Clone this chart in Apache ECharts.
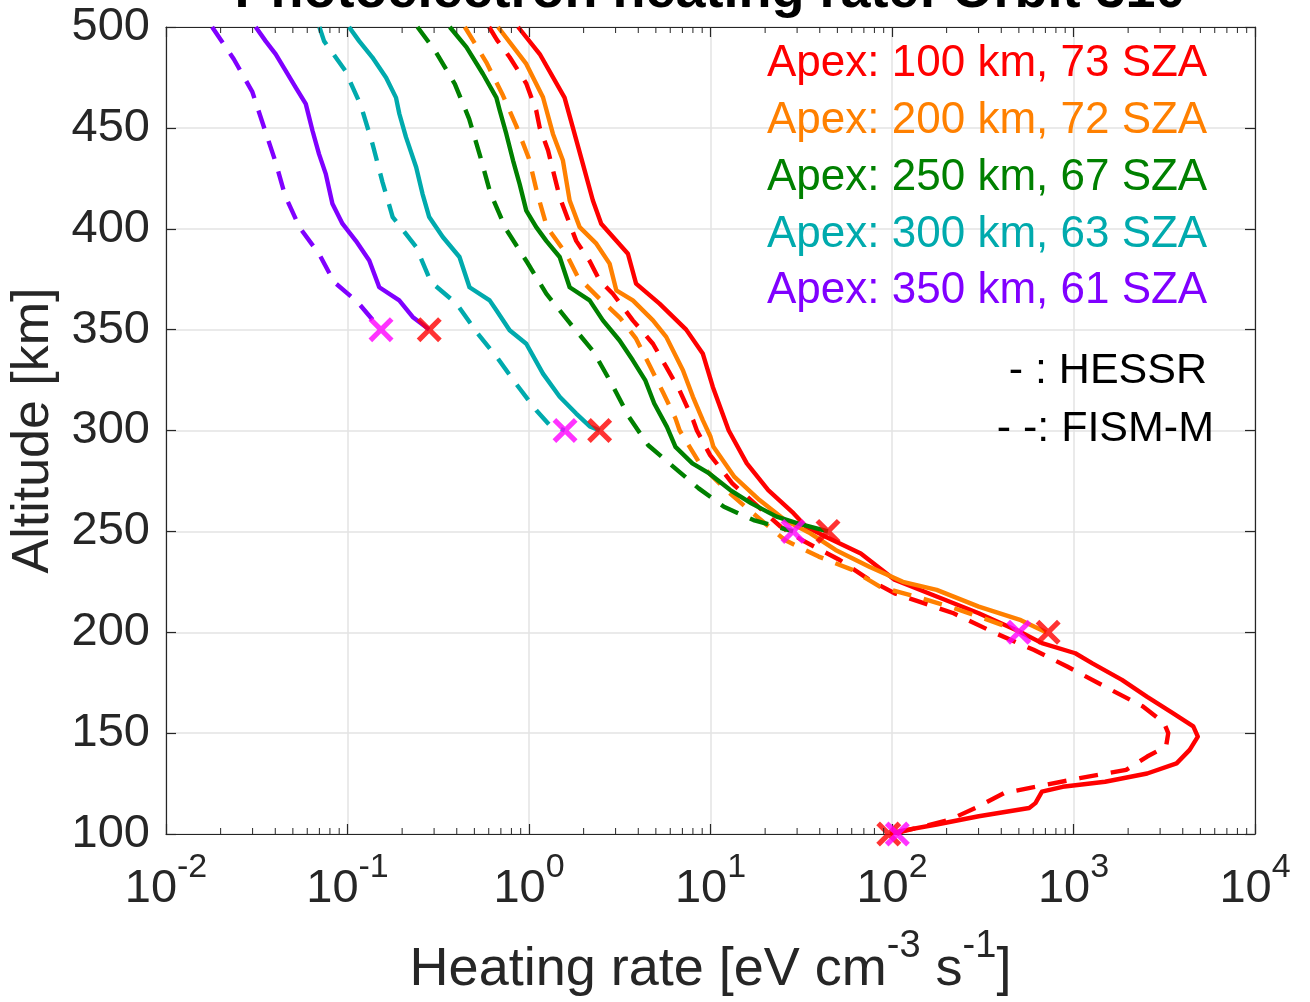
<!DOCTYPE html>
<html><head><meta charset="utf-8">
<script src="https://cdn.jsdelivr.net/npm/echarts@6/dist/echarts.min.js"></script>
<style>html,body{margin:0;padding:0;background:#fff}#c{width:1310px;height:1002px}</style>
</head><body><div id="c"></div>
<script>
// ---------- data (altitude in km, heating rate in eV cm^-3 s^-1) ----------
const ALT_100_H  = [500,486.6,465,450,432,414,402.5,387.6,372.8,362.9,350,338,321.6,300,283.7,270.5,259,252.3,248,239,226,217.7,209.4,200,194.6,189.6,184.6,176.4,168,160,153.3,148.3,141.7,135,130,125.9,123.4,121,115.3,112.9,108.8,104.7,101.3,100];
const RATE_100_H = [0.871,1.146,1.570,1.746,1.982,2.249,2.500,3.508,3.890,5.236,7.345,9.078,10.30,12.6,15.85,20.80,28.64,33.65,41.7,67.3,103.3,176.2,300.6,512.9,669.9,1023,1271,1849,2547,3508,4571,4842,4365,3698,2547,1493,871,670,617,570,300.6,176.2,108.9,97.7];
const ALT_100_F  = [500,493.5,485,472,458.6,450,438.8,429,415.7,402.5,394,384,374.4,367.8,354.6,343,331.5,320,305,300,287.8,273.8,260.6,252.3,245.7,235.8,226,219.3,209.4,199.5,191.3,183,173,163.2,155,150,143.4,138.4,131.8,127.7,124.4,120.3,113.7,107,101.3,100];
const RATE_100_F = [0.603,0.667,0.783,0.966,1.096,1.146,1.274,1.355,1.476,1.675,1.820,2.158,2.449,2.897,3.733,4.819,5.702,6.745,8.035,8.414,9.954,13.18,19.19,24.38,31.84,51.52,74.99,103.3,218.3,372.4,602.6,922.6,1493,2415,3155,3327,3236,2547,1950,1084,706.3,414,300.6,207,114.8,105.9];
const ALT_200_H  = [500,481.7,465.2,447,433.8,414,400.8,392.6,382.7,369.5,364.5,354.6,346.4,329.9,316.7,305,296.9,291.9,277,265.5,255.6,249,240.8,232.5,225,221,212.7,206,200];
const RATE_200_H = [0.675,0.966,1.194,1.355,1.538,1.675,1.901,2.350,2.780,3.027,3.733,4.819,5.702,7.047,8.000,9.078,10.0,10.38,13.55,18.62,25.70,35.48,48.87,74.99,114.8,176.2,300.6,512.9,706.3];
const ALT_200_F  = [500,482.5,466,451,434.7,418,400.8,387.6,376,365.3,356,345.5,332.3,319,306,300,282.8,269.6,257,245.7,237.5,230.9,222.6,217.7,212.7,207.8,201,200];
const RATE_200_F = [0.443,0.582,0.719,0.851,1.0,1.107,1.256,1.603,1.862,2.449,3.162,3.890,4.613,5.470,6.412,6.761,8.851,12.50,18.20,25.70,39.45,60.53,85.70,134.9,207.0,300.6,486.4,501];
const ALT_250_H  = [500,490,476.7,465,458.6,447,433.8,422,409,400.8,394,386,371,364.5,354.6,344.6,334.8,325,313.4,301.8,291.9,283.7,278.7,270.5,263.9,257.3,254,250];
const RATE_250_H = [0.366,0.452,0.558,0.661,0.690,0.750,0.817,0.889,0.966,1.096,1.245,1.476,1.675,2.158,2.553,3.155,3.733,4.365,4.898,5.754,6.412,7.943,9.840,12.85,16.79,23.12,30.20,44.4];
const ALT_250_F  = [500,488,471.8,454.5,436.3,417.8,400,383.5,367.8,353.8,339,322.4,306.8,292.7,282,271.3,262.2,255.6,250];
const RATE_250_F = [0.243,0.305,0.390,0.468,0.537,0.612,0.745,0.975,1.245,1.660,2.270,2.884,3.548,4.539,6.252,8.610,11.86,17.26,28.51];
const ALT_300_H  = [500,493,485,475,465,457,445.4,430.5,417.3,405.8,395.9,386,371,364.5,359.6,349.7,343,328.2,316.7,308.4,302,300];
const RATE_300_H = [0.102,0.116,0.137,0.163,0.185,0.193,0.210,0.239,0.259,0.282,0.335,0.414,0.470,0.607,0.661,0.782,0.966,1.194,1.476,1.820,2.163,2.455];
const ALT_300_F  = [500,493,478.4,461,442,423,405.8,391,373.6,362.9,348,335.6,323,310,303,300];
const RATE_300_F = [0.0700,0.0743,0.0971,0.1186,0.1374,0.1560,0.1774,0.2388,0.2884,0.3981,0.5224,0.6745,0.8511,1.096,1.288,1.574];
const ALT_350_H  = [500,493,486.6,478.4,470,461.9,448.7,437,427.2,412.4,402.5,394,384.3,371,364.5,356.3,350];
const RATE_350_H = [0.0312,0.0354,0.0402,0.0456,0.0519,0.0589,0.0641,0.0697,0.0759,0.0826,0.0938,0.1112,0.1318,0.1496,0.1928,0.2286,0.2818];
const ALT_350_F  = [500,484,468,450.3,433,416.5,400.5,387.6,373.6,363.7,350];
const RATE_350_F = [0.01795,0.02366,0.02985,0.03467,0.04018,0.04529,0.05458,0.06966,0.08433,0.1135,0.1528];
// end markers
const END_ALT    = [350,300,250,200,100];
const END_HESSR  = [0.282,2.45,44.4,725,96];
const END_FISM   = [0.153,1.58,28.5,500,107];
// labels
const LEGEND_TEXT = ['Apex: 100 km, 73 SZA','Apex: 200 km, 72 SZA','Apex: 250 km, 67 SZA','Apex: 300 km, 63 SZA','Apex: 350 km, 61 SZA'];
const COLORS = ['#ff0000','#ff8000','#008000','#00aaad','#8000ff'];
const TITLE = 'Photoelectron heating rate: Orbit 310';

const FONT = '"Liberation Sans", Arial, Helvetica, sans-serif';
const TXT = '#262626';

const curves = [
  [ALT_100_H, RATE_100_H, ALT_100_F, RATE_100_F],
  [ALT_200_H, RATE_200_H, ALT_200_F, RATE_200_F],
  [ALT_250_H, RATE_250_H, ALT_250_F, RATE_250_F],
  [ALT_300_H, RATE_300_H, ALT_300_F, RATE_300_F],
  [ALT_350_H, RATE_350_H, ALT_350_F, RATE_350_F]
];
const zip = (alt, rate) => alt.map((a, i) => [rate[i], a]);

const series = [];
curves.forEach((c, i) => {
  series.push({type:'line', name:'H'+i, data: zip(c[0], c[1]), showSymbol:false, symbol:'none', smooth:false,
    lineStyle:{color:COLORS[i], width:4.4, type:'solid', join:'round'}, z: 2 + i*2, animation:false});
  series.push({type:'line', name:'F'+i, data: zip(c[2], c[3]), showSymbol:false, symbol:'none', smooth:false,
    lineStyle:{color:COLORS[i], width:4.4, type:[19,13], join:'round'}, z: 3 + i*2, animation:false});
});
const XPATH = 'path://M3.5,0 L12,8.5 L20.5,0 L24,3.5 L15.5,12 L24,20.5 L20.5,24 L12,15.5 L3.5,24 L0,20.5 L8.5,12 L0,3.5 Z';
series.push({type:'scatter', data: zip(END_ALT, END_HESSR), symbol: XPATH, symbolSize: 25,
  itemStyle:{color:'#ff0000'}, z: 20, clip:false, animation:false});
series.push({type:'scatter', data: zip(END_ALT, END_FISM), symbol: XPATH, symbolSize: 25,
  itemStyle:{color:'#ff00ff'}, z: 21, clip:false, animation:false});

const axisLineStyle = {color:'#262626', width:1.2};
const chart = echarts.init(document.getElementById('c'), null, {renderer:'canvas'});
chart.setOption({
  backgroundColor:'#fff',
  animation:false,
  textStyle:{fontFamily:FONT},
  grid:{left:166, right:55, top:27, bottom:168, containLabel:false},
  xAxis:[{
    type:'log', logBase:10, min:0.01, max:10000, position:'bottom',
    axisLine:{show:true, onZero:false, lineStyle:axisLineStyle},
    axisTick:{show:true, inside:true, length:10, lineStyle:axisLineStyle},
    splitLine:{show:true, lineStyle:{color:'#e3e3e3', width:1.5}},
    axisLabel:{margin:20, color:TXT, fontFamily:FONT,
      formatter: v => '{b|10}{s|' + Math.round(Math.log10(v)) + '}',
      rich:{b:{fontSize:47, fontFamily:FONT, color:TXT, lineHeight:50, padding:[20,0,0,0]},
            s:{fontSize:34, fontFamily:FONT, color:TXT, lineHeight:36, padding:[0,0,22,0]}}},
    name:'{n|Heating rate [eV cm}{s|-3}{n| s}{s|-1}{n|]}',
    nameLocation:'middle', nameGap:95,
    nameTextStyle:{rich:{n:{fontSize:54, fontFamily:FONT, color:TXT, lineHeight:60, padding:[22,0,0,0]},
                         s:{fontSize:38, fontFamily:FONT, color:TXT, lineHeight:40, padding:[0,0,24,0]}}}
  },{
    type:'log', logBase:10, min:0.01, max:10000, position:'top',
    axisLine:{show:true, onZero:false, lineStyle:axisLineStyle},
    axisTick:{show:true, inside:true, length:10, lineStyle:axisLineStyle},
    splitLine:{show:false}, axisLabel:{show:false}
  }],
  yAxis:[{
    type:'value', min:100, max:500, interval:50, position:'left',
    axisLine:{show:true, onZero:false, lineStyle:axisLineStyle},
    axisTick:{show:true, inside:true, length:10, lineStyle:axisLineStyle},
    splitLine:{show:true, lineStyle:{color:'#e3e3e3', width:1.5}},
    axisLabel:{margin:16, color:TXT, fontSize:47, fontFamily:FONT},
    name:'Altitude [km]', nameLocation:'middle', nameGap:106, nameRotate:90,
    nameTextStyle:{fontSize:52, fontFamily:FONT, color:TXT}
  },{
    type:'value', min:100, max:500, interval:50, position:'right',
    axisLine:{show:true, onZero:false, lineStyle:axisLineStyle},
    axisTick:{show:true, inside:true, length:10, lineStyle:axisLineStyle},
    splitLine:{show:false}, axisLabel:{show:false}
  }],
  series: series
});

// graphics: title, legend texts, log minor ticks
const els = [];
els.push({type:'text', x:710, y:19, z:100, style:{text:TITLE, fill:'#000', font:'bold 54px '+FONT,
  textAlign:'center', textVerticalAlign:'bottom', align:'center', verticalAlign:'bottom'}});
LEGEND_TEXT.forEach((t, i) => {
  els.push({type:'text', x:767, y:64 + i*56.8, z:100, style:{text:t, fill:COLORS[i], font:'44px '+FONT,
    textAlign:'left', textVerticalAlign:'middle', align:'left', verticalAlign:'middle'}});
});
els.push({type:'text', x:1207, y:371, z:100, style:{text:'- : HESSR', fill:'#000', font:'43px '+FONT,
  textAlign:'right', textVerticalAlign:'middle', align:'right', verticalAlign:'middle'}});
els.push({type:'text', x:1214, y:429, z:100, style:{text:'- -: FISM-M', fill:'#000', font:'43px '+FONT,
  textAlign:'right', textVerticalAlign:'middle', align:'right', verticalAlign:'middle'}});
for (let n = -2; n < 4; n++) {
  for (let k = 2; k < 10; k++) {
    const v = k * Math.pow(10, n);
    const pb = chart.convertToPixel({gridIndex:0}, [v, 100]);
    const pt = chart.convertToPixel({gridIndex:0}, [v, 500]);
    els.push({type:'line', silent:true, z:50, shape:{x1:pb[0], y1:pb[1], x2:pb[0], y2:pb[1]-6}, style:{stroke:'#262626', lineWidth:1}});
    els.push({type:'line', silent:true, z:50, shape:{x1:pt[0], y1:pt[1], x2:pt[0], y2:pt[1]+6}, style:{stroke:'#262626', lineWidth:1}});
  }
}
chart.setOption({graphic:{elements:els}});
</script></body></html>
